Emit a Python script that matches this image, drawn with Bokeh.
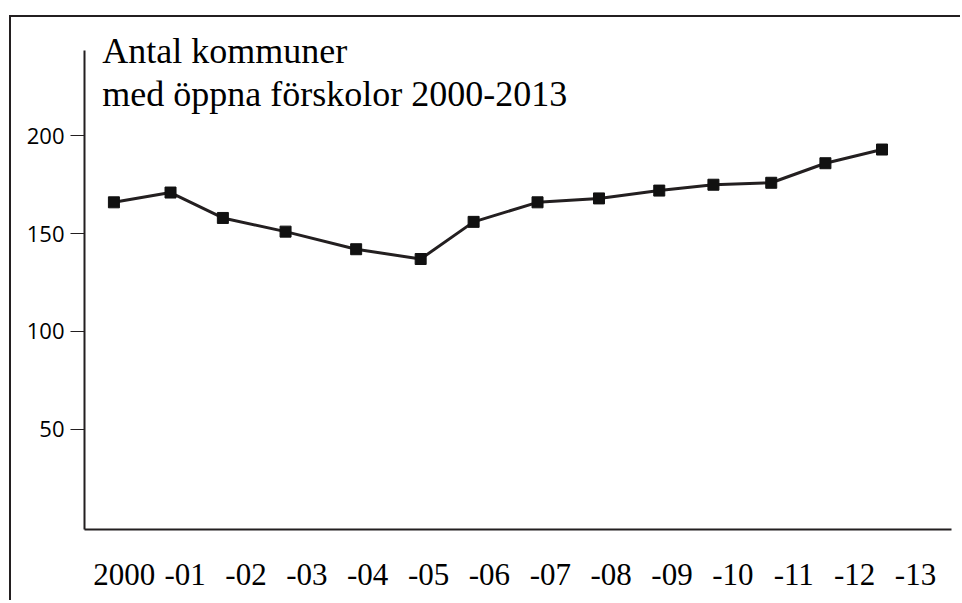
from bokeh.plotting import figure
from bokeh.models import Range1d, FixedTicker, Label
from bokeh.embed import file_html
from bokeh.resources import INLINE

# ---- data ----
year_labels = ["2000", "-01", "-02", "-03", "-04", "-05", "-06",
               "-07", "-08", "-09", "-10", "-11", "-12", "-13"]
# horizontal position of each point, in year-slot units (as drawn)
x_pos = [-0.17, 0.76, 1.62, 2.65, 3.81, 4.87, 5.74,
         6.79, 7.80, 8.79, 9.68, 10.63, 11.52, 12.45]
antal = [166, 171, 158, 151, 142, 137, 156,
         166, 168, 172, 175, 176, 186, 193]
y_ticks = [50, 100, 150, 200]
title_lines = ["Antal kommuner", "med öppna förskolor 2000-2013"]

INK = "#231f20"
Y0, Y_AXIS_TOP, Y_TOP = -1.38, 243.7, 253.9

p = figure(width=951, height=585, output_backend="svg", toolbar_location=None,
           x_range=Range1d(-0.6534, 13.5917), y_range=Range1d(Y0, Y_TOP),
           min_border_left=73, min_border_right=11, min_border_top=13,
           min_border_bottom=73)
p.title.visible = False
p.outline_line_color = None
p.grid.visible = False
p.background_fill_color = "white"
p.border_fill_color = "white"
p.styles = {"border-top": f"2px solid {INK}", "border-left": f"2px solid {INK}",
            "margin-left": "9px", "margin-top": "15px"}

# y axis
ya = p.yaxis[0]
ya.ticker = FixedTicker(ticks=y_ticks)
ya.bounds = (Y0, Y_AXIS_TOP)
ya.axis_line_color = INK
ya.axis_line_width = 2
ya.major_tick_in = 0
ya.major_tick_out = 14
ya.major_tick_line_color = INK
ya.major_tick_line_width = 1
ya.minor_tick_line_color = None
ya.major_label_standoff = 6
ya.major_label_text_font = "Open Sans"
ya.major_label_text_font_size = "22px"
ya.major_label_text_color = "black"

# x axis
xa = p.xaxis[0]
xa.ticker = FixedTicker(ticks=list(range(len(year_labels))))
xa.major_label_overrides = {i: t for i, t in enumerate(year_labels)}
xa.axis_line_color = INK
xa.axis_line_width = 2
xa.major_tick_in = 0
xa.major_tick_out = 0
xa.major_tick_line_color = None
xa.minor_tick_line_color = None
xa.major_label_standoff = 34
xa.major_label_text_font = "Liberation Serif"
xa.major_label_text_font_size = "31px"
xa.major_label_text_color = "black"

# series
p.line(x_pos, antal, line_color=INK, line_width=3)
p.scatter(x_pos, antal, marker="square", size=11, fill_color="#111111",
          line_color="#111111")

# title
for txt, yb in zip(title_lines, [243.5, 221.3]):
    p.add_layout(Label(x=-0.362, y=yb, text=txt, text_font="Liberation Serif",
                       text_font_size="36px", text_color="black",
                       text_baseline="alphabetic", text_align="left"))

open("out.html", "w").write(file_html(p, INLINE))
